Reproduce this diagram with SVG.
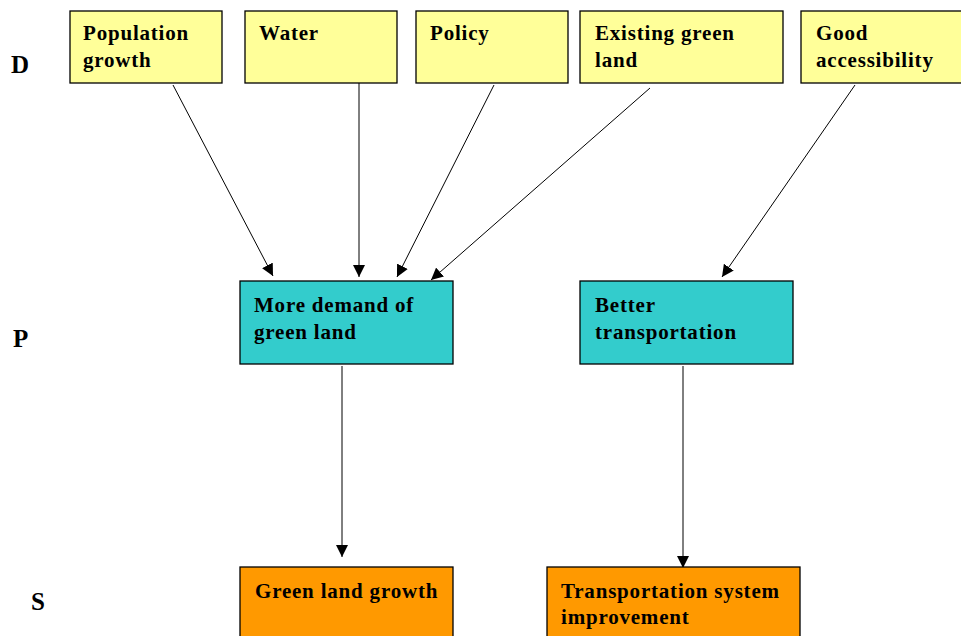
<svg xmlns="http://www.w3.org/2000/svg" width="961" height="636" viewBox="0 0 961 636">
<style>
.box{stroke:#000;stroke-width:1.3}
.d{fill:#FFFF99}
.p{fill:#33CCCC}
.s{fill:#FF9900}
.t{font-family:"Liberation Serif","Times New Roman",serif;font-weight:bold;font-size:21px;fill:#000;letter-spacing:0.8px}
.lab{font-family:"Liberation Serif","Times New Roman",serif;font-weight:bold;font-size:25px;fill:#000}
.c{stroke:#000;stroke-width:1;fill:none;marker-end:url(#ah)}
</style>
<defs>
<marker id="ah" markerWidth="12" markerHeight="12" refX="12" refY="6" orient="auto" markerUnits="userSpaceOnUse">
<path d="M0,0 L12,6 L0,12 Z" fill="#000"/>
</marker>
</defs>
<rect width="961" height="636" fill="#fff"/>
<text class="lab" x="11" y="73">D</text>
<text class="lab" x="13" y="347">P</text>
<text class="lab" x="31" y="610">S</text>
<g id="connectors">
<line class="c" x1="173" y1="85" x2="273" y2="276"/>
<line class="c" x1="359" y1="83" x2="359" y2="277"/>
<line class="c" x1="494" y1="85" x2="397" y2="277"/>
<line class="c" x1="650" y1="88" x2="431" y2="280"/>
<line class="c" x1="855" y1="85" x2="722" y2="277"/>
<line class="c" x1="342" y1="366" x2="342" y2="557"/>
<line class="c" x1="683" y1="366" x2="683" y2="568"/>
</g>
<g id="n-population">
<rect class="box d" x="70" y="11" width="152" height="72"/>
<text class="t" x="83" y="40">Population</text>
<text class="t" x="83" y="67">growth</text>
</g>
<g id="n-water">
<rect class="box d" x="245" y="11" width="152" height="72"/>
<text class="t" x="259" y="40">Water</text>
</g>
<g id="n-policy">
<rect class="box d" x="416" y="11" width="152" height="72"/>
<text class="t" x="430" y="40">Policy</text>
</g>
<g id="n-existing">
<rect class="box d" x="580" y="11" width="203" height="72"/>
<text class="t" x="595" y="40">Existing green</text>
<text class="t" x="595" y="67">land</text>
</g>
<g id="n-good">
<rect class="box d" x="801" y="11" width="162" height="72"/>
<text class="t" x="816" y="40">Good</text>
<text class="t" x="816" y="67">accessibility</text>
</g>
<g id="n-demand">
<rect class="box p" x="240" y="281" width="213" height="83"/>
<text class="t" x="254" y="312">More demand of</text>
<text class="t" x="254" y="339">green land</text>
</g>
<g id="n-better">
<rect class="box p" x="580" y="281" width="213" height="83"/>
<text class="t" x="595" y="312">Better</text>
<text class="t" x="595" y="339">transportation</text>
</g>
<g id="n-greengrowth">
<rect class="box s" x="240" y="567" width="213" height="75"/>
<text class="t" x="255" y="598">Green land growth</text>
</g>
<g id="n-transsystem">
<rect class="box s" x="547" y="567" width="253" height="75"/>
<text class="t" x="561" y="598">Transportation system</text>
<text class="t" x="561" y="624">improvement</text>
</g>
</svg>
